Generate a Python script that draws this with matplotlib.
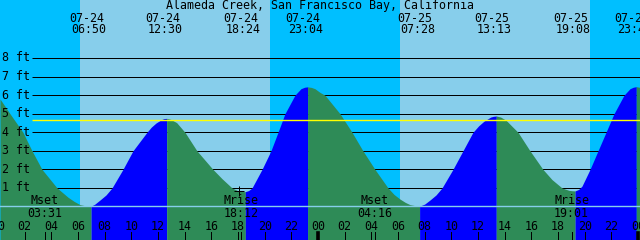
import matplotlib
matplotlib.use("Agg")
import matplotlib.pyplot as plt
import matplotlib.transforms as mtransforms
import numpy as np

TITLE = "Alameda Creek, San Francisco Bay, California"

# tide curve (hours since 07-24 00:00, feet)
tide_hours = [0.0, 0.75, 1.72, 2.4, 3.15, 4.28, 5.1, 5.55, 6.0, 6.4, 6.83,
              7.1, 7.5, 7.95, 8.4, 9.22, 9.97, 11.02, 11.35, 11.7, 12.1, 12.3, 12.5,
              12.8, 13.25, 13.87, 14.77, 15.97, 16.65, 17.4, 17.85, 18.1, 18.4,
              18.65, 18.9, 19.65, 20.32, 20.85, 21.37, 22.12, 22.57, 22.85, 23.07,
              23.35, 23.62, 24.0, 24.37, 25.5, 26.4, 27.22, 28.12, 29.1, 29.55, 30.0,
              30.4, 30.75, 31.1, 31.47,
              31.85, 32.25, 32.7, 33.15, 33.97, 34.72, 35.47, 35.9, 36.3, 36.8, 37.0, 37.22,
              37.55, 37.95, 38.85, 39.75, 40.72, 41.4, 42.15, 42.67, 42.9, 43.13,
              43.4, 43.65, 44.25, 44.85, 45.45, 46.05, 46.8, 47.25, 47.5, 47.72, 48.0]
tide_ft = [5.8, 5.0, 4.0, 3.0, 2.0, 1.0, 0.5, 0.28, 0.1, 0.04, 0.02,
           0.12, 0.35, 0.62, 1.0, 2.0, 3.0, 4.0, 4.28, 4.5, 4.68, 4.74, 4.75,
           4.7, 4.52, 4.0, 3.0, 2.0, 1.5, 1.0, 0.85, 0.81, 0.8,
           0.86, 1.0, 2.0, 3.0, 4.0, 5.0, 6.0, 6.35, 6.43, 6.45,
           6.42, 6.35, 6.15, 6.0, 5.0, 4.0, 3.0, 2.0, 1.0, 0.65, 0.4,
           0.22, 0.1, 0.05, 0.02,
           0.13, 0.35, 0.62, 1.0, 2.0, 3.0, 4.0, 4.35, 4.6, 4.82, 4.86, 4.88,
           4.82, 4.65, 4.0, 3.0, 2.0, 1.45, 1.0, 0.87, 0.85, 0.84,
           0.92, 1.1, 2.0, 3.0, 4.0, 5.0, 6.0, 6.35, 6.43, 6.46, 6.42]

# tide events shown along the top
event_dates = ["07-24", "07-24", "07-24", "07-24", "07-25", "07-25", "07-25", "07-25"]
event_times = ["06:50", "12:30", "18:24", "23:04", "07:28", "13:13", "19:08", "23:43"]

# moon events along the bottom
moon_labels = ["Mset", "Mrise", "Mset", "Mrise"]
moon_dates = ["07-24", "07-24", "07-25", "07-25"]
moon_times = ["03:31", "18:12", "04:16", "19:01"]

# daylight (sunrise, sunset) in hours
daylight = [(6.0, 20.25), (30.0, 44.25)]

grid_levels = [1, 2, 3, 4, 5, 6, 7, 8]
mark_level = 4.65

NIGHT = "#00BFFF"
DAY = "#87CEEB"
RISE = "#0000FF"
FALL = "#2E8B57"
FONT = dict(family="DejaVu Sans Mono", size=8.4, color="black")
PX_H = 1 / 13.333  # hours per pixel
LW = 0.72


def to_hours(date, hhmm):
    day = 0 if date == "07-24" else 24
    hh, mm = hhmm.split(":")
    return day + int(hh) + int(mm) / 60


fig = plt.figure(figsize=(6.4, 2.4), dpi=100)
ax = fig.add_axes([0, 0, 1, 1])
ax.set_xlim(0, 48)
ymin, ymax = -1.806, 11.132
ax.set_ylim(ymin, ymax)
ax.axis("off")
trans = mtransforms.blended_transform_factory(ax.transData, ax.transAxes)


def ypx(y):
    return 1 - y / 240


# sky
ax.axvspan(0, 48, color=NIGHT, lw=0, zorder=0)
for rise, sset in daylight:
    ax.axvspan(rise, sset, color=DAY, lw=0, zorder=0)

# grid lines behind the water
ax.hlines(grid_levels, 32 * PX_H, 48, color="black", lw=LW, zorder=1)

# water fill, blue when rising, green when falling
t = np.array(tide_hours)
h = np.array(tide_ft)
rising = np.diff(h) > 0
start = 0
for i in range(1, len(rising) + 1):
    if i == len(rising) or rising[i] != rising[start]:
        ax.fill_between(t[start:i + 1], h[start:i + 1], ymin,
                        color=RISE if rising[start] else FALL, lw=0, zorder=2)
        start = i

ax.hlines(mark_level, 32 * PX_H, 48, color="#FFFF00", lw=LW * 1.4, zorder=3)
ax.axhline(0, color=DAY, lw=LW * 1.4, zorder=3)

# y labels
for lv in grid_levels:
    ax.text(1.5 * PX_H, lv - 0.18, f"{lv} ft", ha="left", va="baseline", zorder=5, **FONT)

# title and event labels
ax.text(24, ypx(9.5), TITLE, transform=trans, ha="center", va="baseline", **FONT)
for d, tm in zip(event_dates, event_times):
    x = to_hours(d, tm)
    ax.text(x - 0.33, ypx(21.5), d, transform=trans, ha="center", va="baseline", **FONT)
    ax.text(x - 0.15, ypx(33), tm, transform=trans, ha="center", va="baseline", **FONT)

# moon events
for lab, d, tm in zip(moon_labels, moon_dates, moon_times):
    x = to_hours(d, tm) - 0.15
    ax.text(x, ypx(204.5), lab, transform=trans, ha="center", va="baseline", zorder=5, **FONT)
    ax.text(x, ypx(217), tm, transform=trans, ha="center", va="baseline", zorder=5, **FONT)
    ax.plot([x, x], [ypx(232), ypx(240)], transform=trans, color="black", lw=LW, zorder=5)

ax.plot([17.89], [0.84], marker="+", ms=7, mew=LW, color="black", zorder=5)

# hour axis
for hr in range(0, 49, 2):
    x = hr - 0.15
    ax.text(x, ypx(229.5), f"{hr % 24:02d}", transform=trans, ha="center", va="baseline",
            zorder=5, **FONT)
    if hr % 24 == 0:
        ax.plot([x, x], [ypx(233), ypx(240)], transform=trans, color="black", lw=2.6, zorder=5)
    else:
        ax.plot([x, x], [ypx(232), ypx(240)], transform=trans, color="black", lw=LW, zorder=5)

fig.savefig("out.png", dpi=100)
